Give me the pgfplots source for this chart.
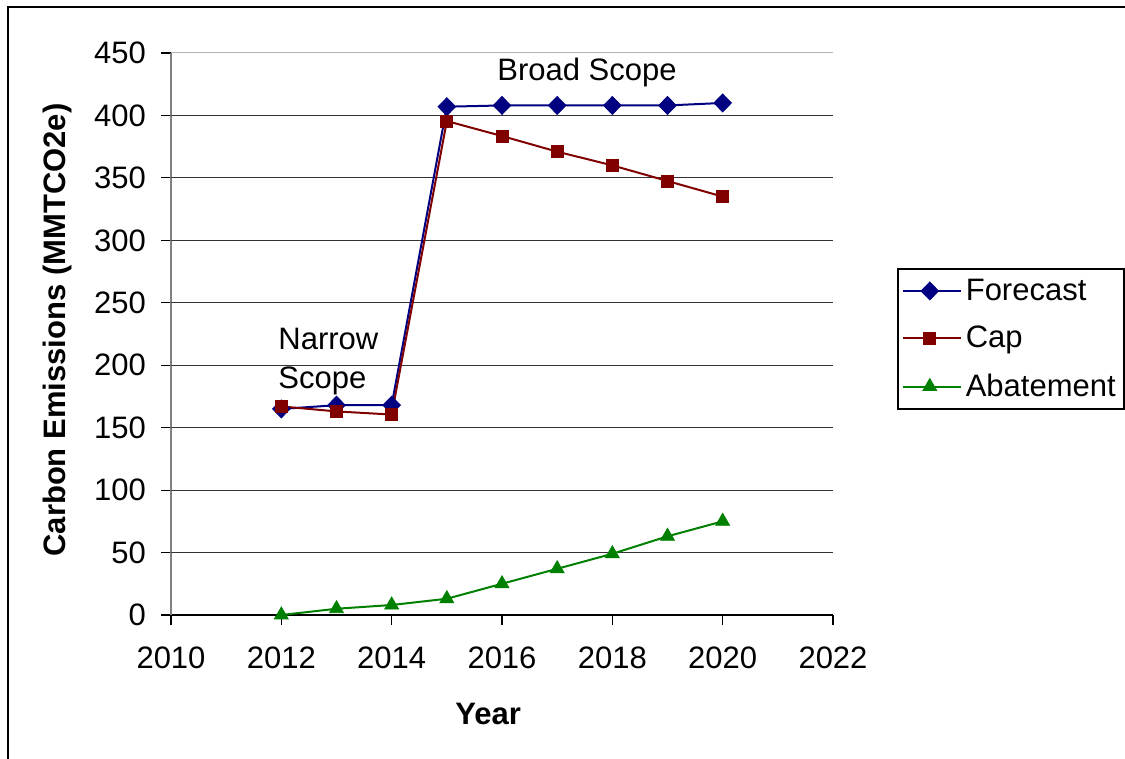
\documentclass[border=0pt]{standalone}
\usepackage{fontspec}
\setmainfont{Liberation Sans}
\usepackage{pgfplots}
\pgfplotsset{compat=1.18}
\definecolor{fcblue}{RGB}{0,0,128}
\definecolor{capred}{RGB}{128,0,0}
\definecolor{abgreen}{RGB}{0,128,0}
\newcommand{\chartfont}{\fontsize{15.5}{18}\selectfont}
\begin{document}
\begin{tikzpicture}
\useasboundingbox (0,0) rectangle (562.5pt,379.5pt);
\draw[line width=1pt] (4pt,0) -- (4pt,376pt) -- (562.5pt,376pt);
\begin{axis}[
  at={(85.5pt,72pt)}, anchor=south west,
  scale only axis, width=331pt, height=281pt,
  xmin=2010, xmax=2022, ymin=0, ymax=450,
  xtick={2010,2012,...,2022}, ytick={0,50,...,450},
  axis x line*=bottom, axis y line*=left,
  x axis line style={-, black, line width=0.7pt},
  y axis line style={-, black!50, line width=0.8pt},
  tick align=outside, major tick length=5pt,
  tick style={black, line width=0.6pt},
  extra y ticks={50,100,...,400}, extra y tick labels={},
  extra y tick style={grid=major, major tick length=0pt},
  grid style={black!80, line width=0.6pt},
  /pgf/number format/assume math mode=true,
  /pgf/number format/1000 sep={},
  ticklabel style={font=\chartfont},
  x tick label style={yshift=-7.5pt},
  y tick label style={xshift=-4pt},
  xlabel={\textbf{Year}}, ylabel={\textbf{Carbon Emissions (MMTCO2e)}},
  label style={font=\chartfont},
  xlabel style={at={(axis description cs:0.479,-0.176)}, anchor=center},
  ylabel style={at={(axis description cs:-0.172,0.507)}, anchor=center, rotate=0},
  legend style={at={(axis description cs:1.0967,0.6174)}, anchor=north west,
    draw=black, line width=0.8pt, font=\chartfont, row sep=7.5pt,
    inner xsep=2pt, inner ysep=3pt},
  legend cell align=left,
  legend image code/.code={\draw[mark repeat=2,mark phase=2] plot coordinates {(0pt,0pt) (13.5pt,0pt) (27pt,0pt)};
    \path (0pt,0pt) -- (29pt,0pt);},
  every axis plot/.append style={line width=1pt},
  clip=false,
]
\draw[black!30, line width=0.5pt] (axis cs:2010,450) -- (axis cs:2022,450);
\addplot[color=fcblue, mark=diamond*, mark size=4.5pt, mark options={solid, xscale=1.3, line width=0.4pt}] coordinates {
  (2012,165) (2013,168) (2014,168) (2015,407) (2016,408)
  (2017,408) (2018,408) (2019,408) (2020,410)
};
\addplot[color=capred, mark=square*, mark size=3pt, mark options={solid, line width=0.4pt}] coordinates {
  (2012,167) (2013,163) (2014,160.5) (2015,395.5) (2016,383.5)
  (2017,371) (2018,360) (2019,347.5) (2020,335)
};
\addplot[color=abgreen, mark=triangle*, mark size=4pt, mark options={solid, line width=0.4pt}] coordinates {
  (2012,0) (2013,5) (2014,8) (2015,13) (2016,25)
  (2017,37) (2018,49) (2019,63) (2020,75)
};
\legend{Forecast, Cap, Abatement}
\node[anchor=west, align=left, inner sep=0pt, font=\fontsize{15.5}{19.5}\selectfont] at (axis cs:2011.94,203) {Narrow\\Scope};
\node[inner sep=0pt, font=\chartfont] at (axis cs:2017.54,434) {Broad Scope};
\end{axis}
\end{tikzpicture}
\end{document}
